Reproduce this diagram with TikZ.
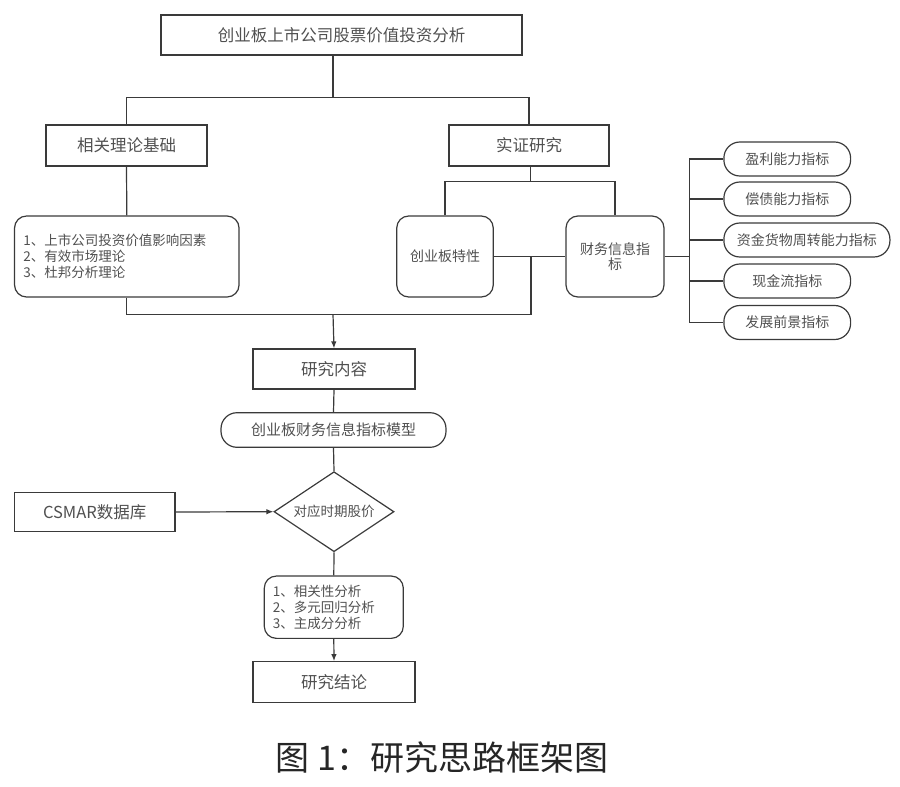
\documentclass[tikz,border=0pt]{standalone}
\usepackage{fontspec}
\setmainfont{Noto Sans CJK SC}
\usetikzlibrary{shapes.geometric,arrows.meta}

\definecolor{lineclr}{HTML}{3A3A3A}
\definecolor{textclr}{HTML}{505050}

\tikzset{every picture/.style={line width=1.2pt}}
\tikzset{
  plainbox/.style={draw=lineclr, text=textclr, font=\fontsize{16.5}{18}\selectfont, inner sep=0pt},
  roundbox/.style={draw=lineclr, text=textclr, rounded corners=12pt, inner sep=0pt},
  pillbox/.style={draw=lineclr, text=textclr, rounded corners=16pt, minimum height=34pt, inner sep=0pt, font=\fontsize{14}{16}\selectfont},
  listtext/.style={font=\fontsize{13.5}{16}\selectfont, align=left},
}

\begin{document}
\begin{tikzpicture}[x=1pt,y=1pt,yscale=-1,xscale=1,>={Latex[length=7pt,width=5.5pt]},draw=lineclr]

\useasboundingbox (0,0) rectangle (900,787);

% boxes
\draw (341.5,35) node [plainbox, minimum width=361pt, minimum height=40pt] (title) {创业板上市公司股票价值投资分析};
\draw (126.5,145.5) node [plainbox, minimum width=161pt, minimum height=41pt] (theory) {相关理论基础};
\draw (529,145.5) node [plainbox, minimum width=160pt, minimum height=41pt] (empir) {实证研究};

\draw (126.8,256.5) node [roundbox, listtext, minimum width=224.5pt, minimum height=81pt, text width=207pt] (basis) {1、上市公司投资价值影响因素\\2、有效市场理论\\3、杜邦分析理论};
\draw (445,256.5) node [roundbox, font=\fontsize{14}{16}\selectfont, minimum width=96.5pt, minimum height=81pt] (gem) {创业板特性};
\draw (615,256.5) node [roundbox, font=\fontsize{14}{15}\selectfont, minimum width=98pt, minimum height=81pt, align=center] (fin) {财务信息指\\标};

\draw (723.3,159) node [pillbox, anchor=west, minimum width=126.7pt] (ind1) {盈利能力指标};
\draw (723.3,199) node [pillbox, anchor=west, minimum width=126.7pt] (ind2) {偿债能力指标};
\draw (723.3,240) node [pillbox, anchor=west, minimum width=166pt] (ind3) {资金货物周转能力指标};
\draw (723.3,281) node [pillbox, anchor=west, minimum width=126.7pt] (ind4) {现金流指标};
\draw (723.3,322.5) node [pillbox, anchor=west, minimum width=126.7pt] (ind5) {发展前景指标};

\draw (334,369) node [plainbox, minimum width=162pt, minimum height=40pt] (content) {研究内容};
\draw (333.5,430) node [pillbox, font=\fontsize{15}{17}\selectfont, minimum width=225pt, minimum height=34.6pt] (model) {创业板财务信息指标模型};
\draw (334,511.7) node [draw=lineclr, text=textclr, diamond, aspect=1.5, inner sep=0pt, minimum width=120pt, minimum height=80pt, font=\fontsize{13.5}{16}\selectfont] (price) {对应时期股价};
\draw (94.7,512) node [plainbox, minimum width=160.7pt, minimum height=39.4pt] (csmar) {CSMAR数据库};
\draw (333.8,607.2) node [roundbox, listtext, minimum width=139pt, minimum height=62.3pt, text width=122pt, text=textclr] (method) {1、相关性分析\\2、多元回归分析\\3、主成分分析};
\draw (334,682) node [plainbox, minimum width=162pt, minimum height=40.6pt] (concl) {研究结论};

% junctions
\coordinate (spl) at (333,97.7);
\coordinate (spl2) at (530.5,181.7);
\coordinate (jn) at (531,256.5);
\coordinate (merge) at (333,314.3);
\coordinate (bus) at (689.3,256.5);

% connectors
\draw (spl |- title.south) -- (spl);
\draw (theory.north) |- (spl) -| (empir.north);
\draw (theory.south) -- (basis.north);
\draw (spl2 |- empir.south) -- (spl2);
\draw (gem.north) |- (spl2) -| (fin.north);
\draw (gem.east) -- (fin.west);
\draw (basis.south) |- (merge) -| (jn);
\draw [->] (merge) -- (content.north);
\draw (fin.east) -- (bus);
\draw (bus |- ind1.west) -- (bus |- ind5.west);
\foreach \n in {ind1,ind2,ind3,ind4,ind5}
  \draw (bus |- \n.west) -- (\n.west);
\draw (content.south) -- (model.north);
\draw (model.south) -- (price.north);
\draw [->] (csmar.east) -- (price.west);
\draw (price.south) -- (method.north);
\draw [->] (method.south) -- (concl.north);

% caption
\draw (442,758) node [font=\fontsize{34}{36}\selectfont, text={black!85}] (caption) {图 1：研究思路框架图};

\end{tikzpicture}
\end{document}
